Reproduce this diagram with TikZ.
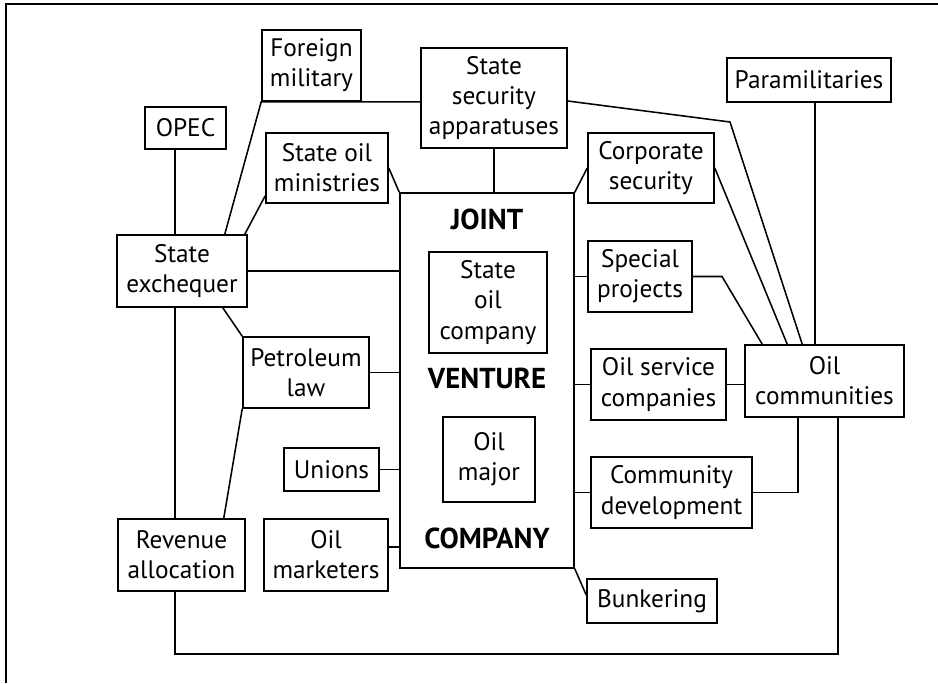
\documentclass[tikz,border=0pt]{standalone}
\usepackage{fontspec}
\setmainfont{PT Sans}
\usetikzlibrary{calc}
\tikzset{
  box/.style={draw, line width=1.1pt, align=center, inner sep=0pt,
    font=\fontsize{18}{21.5}\selectfont},
  sz/.style 2 args={minimum width=#1*0.025cm, minimum height=#2*0.025cm},
  word/.style={font=\fontsize{20.5}{24}\selectfont\bfseries},
  link/.style={line width=1.1pt}
}
\begin{document}
\begin{tikzpicture}[x=0.025cm,y=-0.025cm]
\useasboundingbox (0,0) rectangle (938,683);
\draw[line width=1.6pt] (6,683) -- (6,4) -- (938,4);
\node[box, sz={174}{375}] (jv) at (487,380.5) {};
\node[word] (joint) at (487,219) {JOINT};
\node[word] (venture) at (487,378) {VENTURE};
\node[word] (company) at (487,538) {COMPANY};
\node[box, sz={118}{101}] (soc) at (488,302.5) {State\\oil\\company};
\node[box, sz={92}{85}] (om) at (489,459.5) {Oil\\major};
\node[box, sz={99}{71}] (fm) at (311.5,65.5) {Foreign\\military};
\node[box, sz={81}{42}] (opec) at (185.5,128) {OPEC};
\node[box, sz={122}{70}] (som) at (327,168) {State oil\\ministries};
\node[box, sz={146}{100}] (ssa) at (494,98) {State\\security\\apparatuses};
\node[box, sz={164}{44}] (para) at (809,80) {Paramilitaries};
\node[box, sz={126}{70}] (cs) at (651,168) {Corporate\\security};
\node[box, sz={130}{72}] (exch) at (182,271) {State\\exchequer};
\node[box, sz={104}{71}] (sp) at (640,276.5) {Special\\projects};
\node[box, sz={126}{71}] (pl) at (306,372.5) {Petroleum\\law};
\node[box, sz={135}{71}] (osc) at (658.5,384.5) {Oil service\\companies};
\node[box, sz={159}{72}] (oc) at (824.5,381) {Oil\\communities};
\node[box, sz={95}{43}] (un) at (331.5,469.5) {Unions};
\node[box, sz={161}{71}] (cd) at (671.5,492.5) {Community\\development};
\node[box, sz={127}{72}] (ra) at (181.5,555) {Revenue\\allocation};
\node[box, sz={124}{72}] (mk) at (326,555) {Oil\\marketers};
\node[box, sz={130}{44}] (bk) at (652,601) {Bunkering};
\coordinate (spine) at (175,0);
\coordinate (loop) at (838,654);
\draw[link] (spine |- opec.south) -- (spine |- exch.north);
\draw[link] (spine |- exch.south) -- (spine |- ra.north);
\draw[link] (spine |- ra.south) -- (spine |- loop) -- (loop) -- (loop |- oc.south);
\draw[link] ($(exch.north east)+(-23,0)$) -- (fm.south west) -- (ssa.west |- fm.south);
\draw[link] ($(exch.north east)+(-3,0)$) -- ($(som.south west)+(0,-8)$);
\draw[link] (som.east) -- (jv.north west);
\draw[link] (ssa.south) -- (ssa.south |- jv.north);
\draw[link] (cs.west) -- (jv.north east);
\draw[link] ($(ssa.east)+(0,3)$) -- (730,122) -- ($(oc.north west)+(58,0)$);
\draw[link] (cs.east) -- ($(oc.north west)+(43,0)$);
\draw[link] ($(para.south)+(6,0)$) -- ($(oc.north)+(-9.5,0)$);
\draw[link] (sp.east) -- (722,276.5) -- ($(oc.north west)+(18,0)$);
\draw[link] (sp.west -| jv.east) -- (sp.west);
\draw[link] (osc.west -| jv.east) -- (osc.west);
\draw[link] (osc.east) -- (osc.east -| oc.west);
\draw[link] (cd.west -| jv.east) -- (cd.west);
\draw[link] (cd.east) -- (798,492.5) -- (798 ,0 |- oc.south);
\draw[link] (jv.south east) -- ($(bk.west)+(0,-6)$);
\draw[link] (exch.east) -- (exch.east -| jv.west);
\draw[link] ($(exch.south east)+(-25,0)$) -- (pl.north west);
\draw[link] (pl.east) -- (pl.east -| jv.west);
\draw[link] (pl.south west) -- ($(ra.north east)+(-22,0)$);
\draw[link] (un.east) -- (un.east -| jv.west);
\draw[link] ($(mk.east)+(0,-8)$) -- ($(mk.east -| jv.west)+(0,-8)$);
\end{tikzpicture}
\end{document}
